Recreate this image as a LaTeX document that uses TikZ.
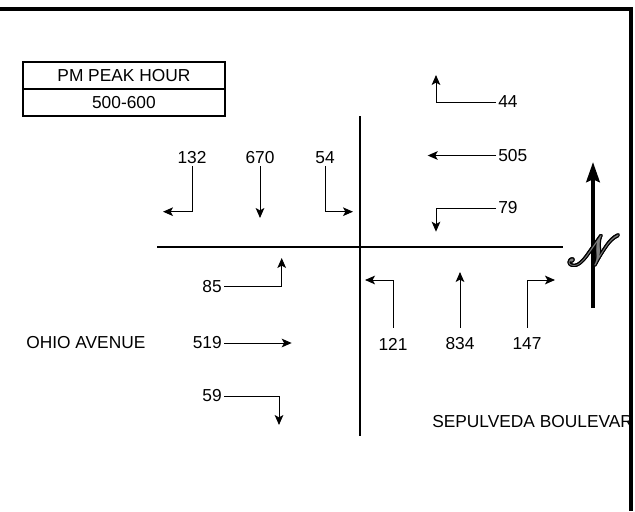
\documentclass[tikz,border=0pt]{standalone}
\usepackage{fontspec}
\setmainfont{Liberation Sans}
\usepackage{mathrsfs}
\usepackage{contour}
\usetikzlibrary{arrows.meta,positioning}

\begin{document}
\begin{tikzpicture}[
	x=0.75pt, y=-0.75pt,
	every node/.style={font=\fontsize{13}{15}\selectfont, inner sep=1.5pt},
	line cap=butt,
	line join=miter,
	road/.style={line width=1.5pt},
	mv/.style={line width=0.75pt, -{Stealth[length=7.5pt, width=6.5pt, inset=1.8pt]}},
	hourbox/.style={draw, line width=1.5pt, minimum width=151.5pt, minimum height=20.5pt, inner sep=0pt, outer sep=0pt}
	]
	\useasboundingbox (0,0) rectangle (635,511);
	
	% Peak hour box
	\node[hourbox] (hour) at (123.9,75.4) {PM PEAK HOUR};
	\node[hourbox, below=0pt of hour] (period) {500-600};
	
	% Roads
	\draw[road] (360,116) -- (360,436);
	\draw[road] (157,246.5) -- (563,246.5);
	
	% Street names
	\node[anchor=west] (ohio) at (24,343) {OHIO AVENUE};
	\node[anchor=west] (sepulveda) at (430,421.7) {SEPULVEDA BOULEVAR};
	
	% North leg (southbound)
	\node (l132) at (192,158) {132};
	\node (l670) at (260,158) {670};
	\node (l54) at (325,158) {54};
	\coordinate (t132) at (163,211.7);
	\coordinate (t670) at (260,218);
	\coordinate (t54) at (353,211.7);
	\draw[mv] (l132.south) |- (t132);
	\draw[mv] (l670.south) -- (t670);
	\draw[mv] (l54.south) |- (t54);
	
	% East leg (westbound)
	\node[anchor=west] (l44) at (496,102) {44};
	\node[anchor=west] (l505) at (496,155.5) {505};
	\node[anchor=west] (l79) at (496,208) {79};
	\coordinate (t44) at (436,75);
	\coordinate (t505) at (427.7,155.5);
	\coordinate (t79) at (436,231.7);
	\draw[mv] (l44.west) -| (t44);
	\draw[mv] (l505.west) -- (t505);
	\draw[mv] (l79.west) -| (t79);
	
	% West leg (eastbound)
	\node[anchor=east] (l85) at (224,286.7) {85};
	\node[anchor=east] (l519) at (224,343) {519};
	\node[anchor=east] (l59) at (224,396) {59};
	\coordinate (t85) at (281.7,258);
	\coordinate (t519) at (291.7,343);
	\coordinate (t59) at (279,425);
	\draw[mv] (l85.east) -| (t85);
	\draw[mv] (l519.east) -- (t519);
	\draw[mv] (l59.east) -| (t59);
	
	% South leg (northbound)
	\node (l121) at (393,344) {121};
	\node (l834) at (460,344) {834};
	\node (l147) at (527,344) {147};
	\coordinate (t121) at (365,280);
	\coordinate (t834) at (460,272);
	\coordinate (t147) at (555,280);
	\draw[mv, shorten <=6pt] (l121.north) |- (t121);
	\draw[mv, shorten <=6pt] (l834.north) -- (t834);
	\draw[mv, shorten <=6pt] (l147.north) |- (t147);
	
	% North arrow
	\coordinate (nfoot) at (593,308);
	\coordinate (ntip) at (593,162);
	\draw[line width=3pt, -{Stealth[length=15pt, width=10pt, inset=2pt]}] (nfoot) -- (ntip);
	\node[scale=1.28] (nsym) at (594,251) {\fontsize{24}{28}\selectfont\contourlength{0.7pt}\contour{black}{\textcolor{gray}{$\mathscr{N}$}}};
	
	% Frame
	\draw[line width=3pt] (0,9.3) -- (630.5,9.3) -- (630.5,511);
\end{tikzpicture}
\end{document}
